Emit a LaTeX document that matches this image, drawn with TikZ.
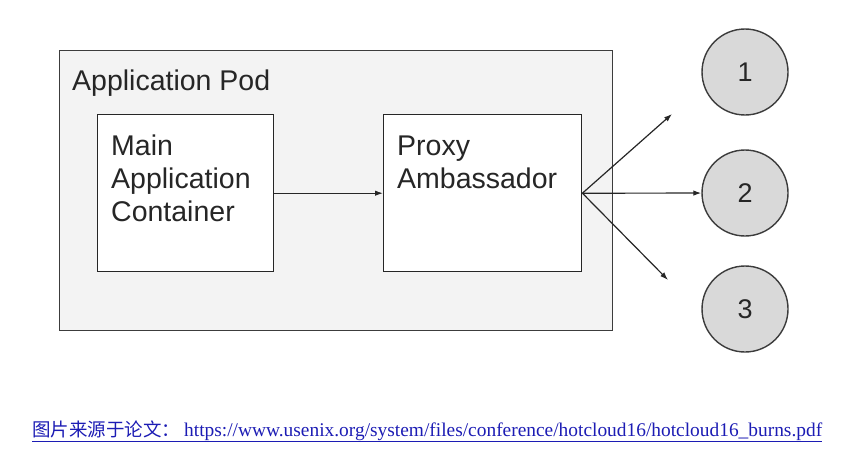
\documentclass[tikz,border=0pt]{standalone}
\usepackage{fontspec}
\setmainfont{Liberation Sans}
\newfontfamily\cjkfont{Noto Sans CJK SC}
\newfontfamily\serffont{Liberation Serif}
\usetikzlibrary{arrows.meta,positioning}
\definecolor{podGray}{HTML}{F3F3F3}
\definecolor{svcGray}{HTML}{D9D9D9}
\definecolor{lineGray}{HTML}{3C3C3C}
\definecolor{linkBlue}{HTML}{1C1CB4}

\begin{document}
\begin{tikzpicture}[x=1pt, y=-1pt,
  every node/.style={font=\fontsize{28.5}{33}\selectfont, text=black!85},
  pod/.style={draw=lineGray, line width=1.4pt, fill=podGray, inner sep=0pt,
             minimum width=553pt, minimum height=280pt},
  box/.style={draw=black!85, line width=1.4pt, fill=white, inner sep=0pt,
             minimum width=176pt, minimum height=157pt},
  boxtext/.style={anchor=base west, align=left, inner sep=0pt},
  svc/.style={circle, draw=lineGray, line width=1.4pt, fill=svcGray,
             minimum size=86pt, inner sep=0pt, font=\fontsize{27}{30}\selectfont},
  arr/.style={-{Latex[length=8pt, width=5.5pt]}, line width=1.2pt, black!85},
]
\useasboundingbox (0,0) rectangle (850,460);

% Pod and its two containers
\node[pod] (pod) at (59,50) [anchor=north west] {};
\node[boxtext] (podlabel) at (72,90) {Application Pod};
\node[box, anchor=north west] (main) at (97,114) {};
\node[box, anchor=north west, minimum width=198pt] (proxy) at (383,114) {};
% (base of a multi-line node is its last line)
\node[boxtext] (maintext) at (111,221) {Main\\Application\\Container};
\node[boxtext] (proxytext) at (397,188) {Proxy\\Ambassador};

% Services
\node[svc] (s1) at (745,72) {1};
\node[svc] (s2) at (745,193) {2};
\node[svc] (s3) at (745,309) {3};

% Arrows
\coordinate (up) at (672,114);
\coordinate (dn) at (668,280);
\draw[arr] (main) -- (proxy);
\draw[arr] (proxy.east) -- (up);
\draw[arr] (proxy.east) -- (s2);
\draw[arr] (proxy.east) -- (dn);

% Source
\node[anchor=base west, inner sep=0pt, text=linkBlue,
      font=\fontsize{18.5}{22}\selectfont] (src) at (32,436)
  {\color{linkBlue}\underline{{\cjkfont 图片来源于论文：}\hspace{4pt}{\serffont\fontsize{19.4}{22}\selectfont https://www.usenix.org/system/files/conference/hotcloud16/hotcloud16\_burns.pdf}}};

\end{tikzpicture}
\end{document}
